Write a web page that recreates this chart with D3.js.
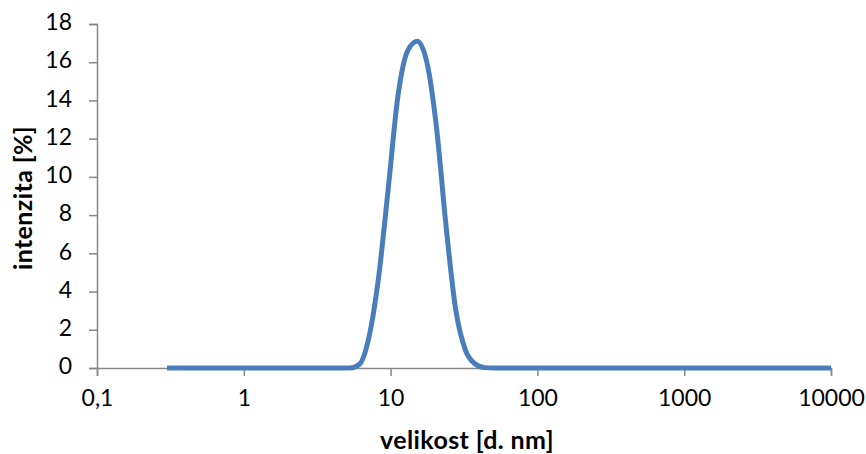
<!DOCTYPE html>
<html>
<head>
<meta charset="utf-8">
<script src="https://cdn.jsdelivr.net/npm/d3@7"></script>
<style>
  body { margin: 0; background: #fff; }
  svg text { font-family: Lato, "Noto Sans", sans-serif; fill: #000; }
</style>
</head>
<body>
<svg id="chart" width="866" height="454"></svg>
<script>
// size bins [d. nm]
const sizes = [0.3, 0.349, 0.406, 0.472, 0.549, 0.638, 0.742, 0.863, 1.004, 1.167,
  1.357, 1.578, 1.835, 2.134, 2.482, 2.886, 3.357, 3.903, 4.539, 5.279,
  6.139, 7.139, 8.302, 9.654, 11.23, 13.06, 15.18, 17.66, 20.53, 23.88,
  27.77, 32.29, 37.55, 43.67, 50.78, 59.06, 68.68, 79.87, 92.88, 108.0,
  125.6, 146.1, 169.9, 197.5, 229.7, 267.1, 310.7, 361.3, 420.1, 488.6,
  568.1, 660.7, 768.3, 893.5, 1039, 1208, 1405, 1634, 1900, 2210,
  2570, 2988, 3475, 4041, 4700, 5465, 6356, 7391, 8595, 10000];

// intensity [%]
const intensity = [0, 0, 0, 0, 0, 0, 0, 0, 0, 0,
  0, 0, 0, 0, 0, 0, 0, 0, 0, 0,
  0.2, 1.65, 4.8, 9.45, 14.25, 16.6, 17.1, 16.0, 12.6, 7.4,
  3.05, 0.95, 0.22, 0.02, 0, 0, 0, 0, 0, 0,
  0, 0, 0, 0, 0, 0, 0, 0, 0, 0,
  0, 0, 0, 0, 0, 0, 0, 0, 0, 0,
  0, 0, 0, 0, 0, 0, 0, 0, 0, 0];

const xTicks = [0.1, 1, 10, 100, 1000, 10000];
const xTickLabels = ["0,1", "1", "10", "100", "1000", "10000"];
const yTicks = [0, 2, 4, 6, 8, 10, 12, 14, 16, 18];

const data = sizes.map((s, i) => ({ size: s, value: intensity[i] }));

const margin = { left: 97, right: 35, top: 24, bottom: 86 };
const width = 866, height = 454;
const axisColor = '#868686';

const svg = d3.select('#chart');

const x = d3.scaleLog()
  .domain([0.1, 10000])
  .range([margin.left, width - margin.right]);

const y = d3.scaleLinear()
  .domain([0, 18])
  .range([height - margin.bottom, margin.top]);

// x axis
const xAxis = svg.append('g')
  .attr('transform', `translate(0,${y(0)})`)
  .call(d3.axisBottom(x).tickValues(xTicks)
    .tickFormat((d, i) => xTickLabels[i]).tickSize(8).tickPadding(14));

// y axis
const yAxis = svg.append('g')
  .attr('transform', `translate(${x(0.1)},0)`)
  .call(d3.axisLeft(y).tickValues(yTicks).tickSize(8).tickPadding(17));

[xAxis, yAxis].forEach(g => {
  g.select('.domain').attr('stroke', axisColor).attr('stroke-width', 1.5);
  g.selectAll('.tick line').attr('stroke', axisColor).attr('stroke-width', 1.5);
  g.selectAll('.tick text').attr('font-size', 23)
    .attr('font-family', 'Lato, "Noto Sans", sans-serif').attr('fill', '#000');
});
yAxis.selectAll('.tick text').attr('dy', '0.25em');
xAxis.selectAll('.tick text').attr('dy', '0.71em');

// the curve
const line = d3.line()
  .x(d => x(d.size))
  .y(d => y(d.value))
  .curve(d3.curveMonotoneX);

svg.append('path')
  .datum(data)
  .attr('d', line)
  .attr('fill', 'none')
  .attr('stroke', '#4a7ebb')
  .attr('stroke-width', 5)
  .attr('stroke-linejoin', 'round');

// axis titles
svg.append('text')
  .attr('x', 467)
  .attr('y', 449)
  .attr('text-anchor', 'middle')
  .attr('font-size', 25)
  .attr('font-weight', 'bold')
  .attr('letter-spacing', 0.4)
  .text('velikost [d. nm]');

svg.append('text')
  .attr('transform', `translate(32,198) rotate(-90)`)
  .attr('text-anchor', 'middle')
  .attr('font-size', 25)
  .attr('font-weight', 'bold')
  .attr('letter-spacing', 0.4)
  .text('intenzita [%]');
</script>
</body>
</html>
